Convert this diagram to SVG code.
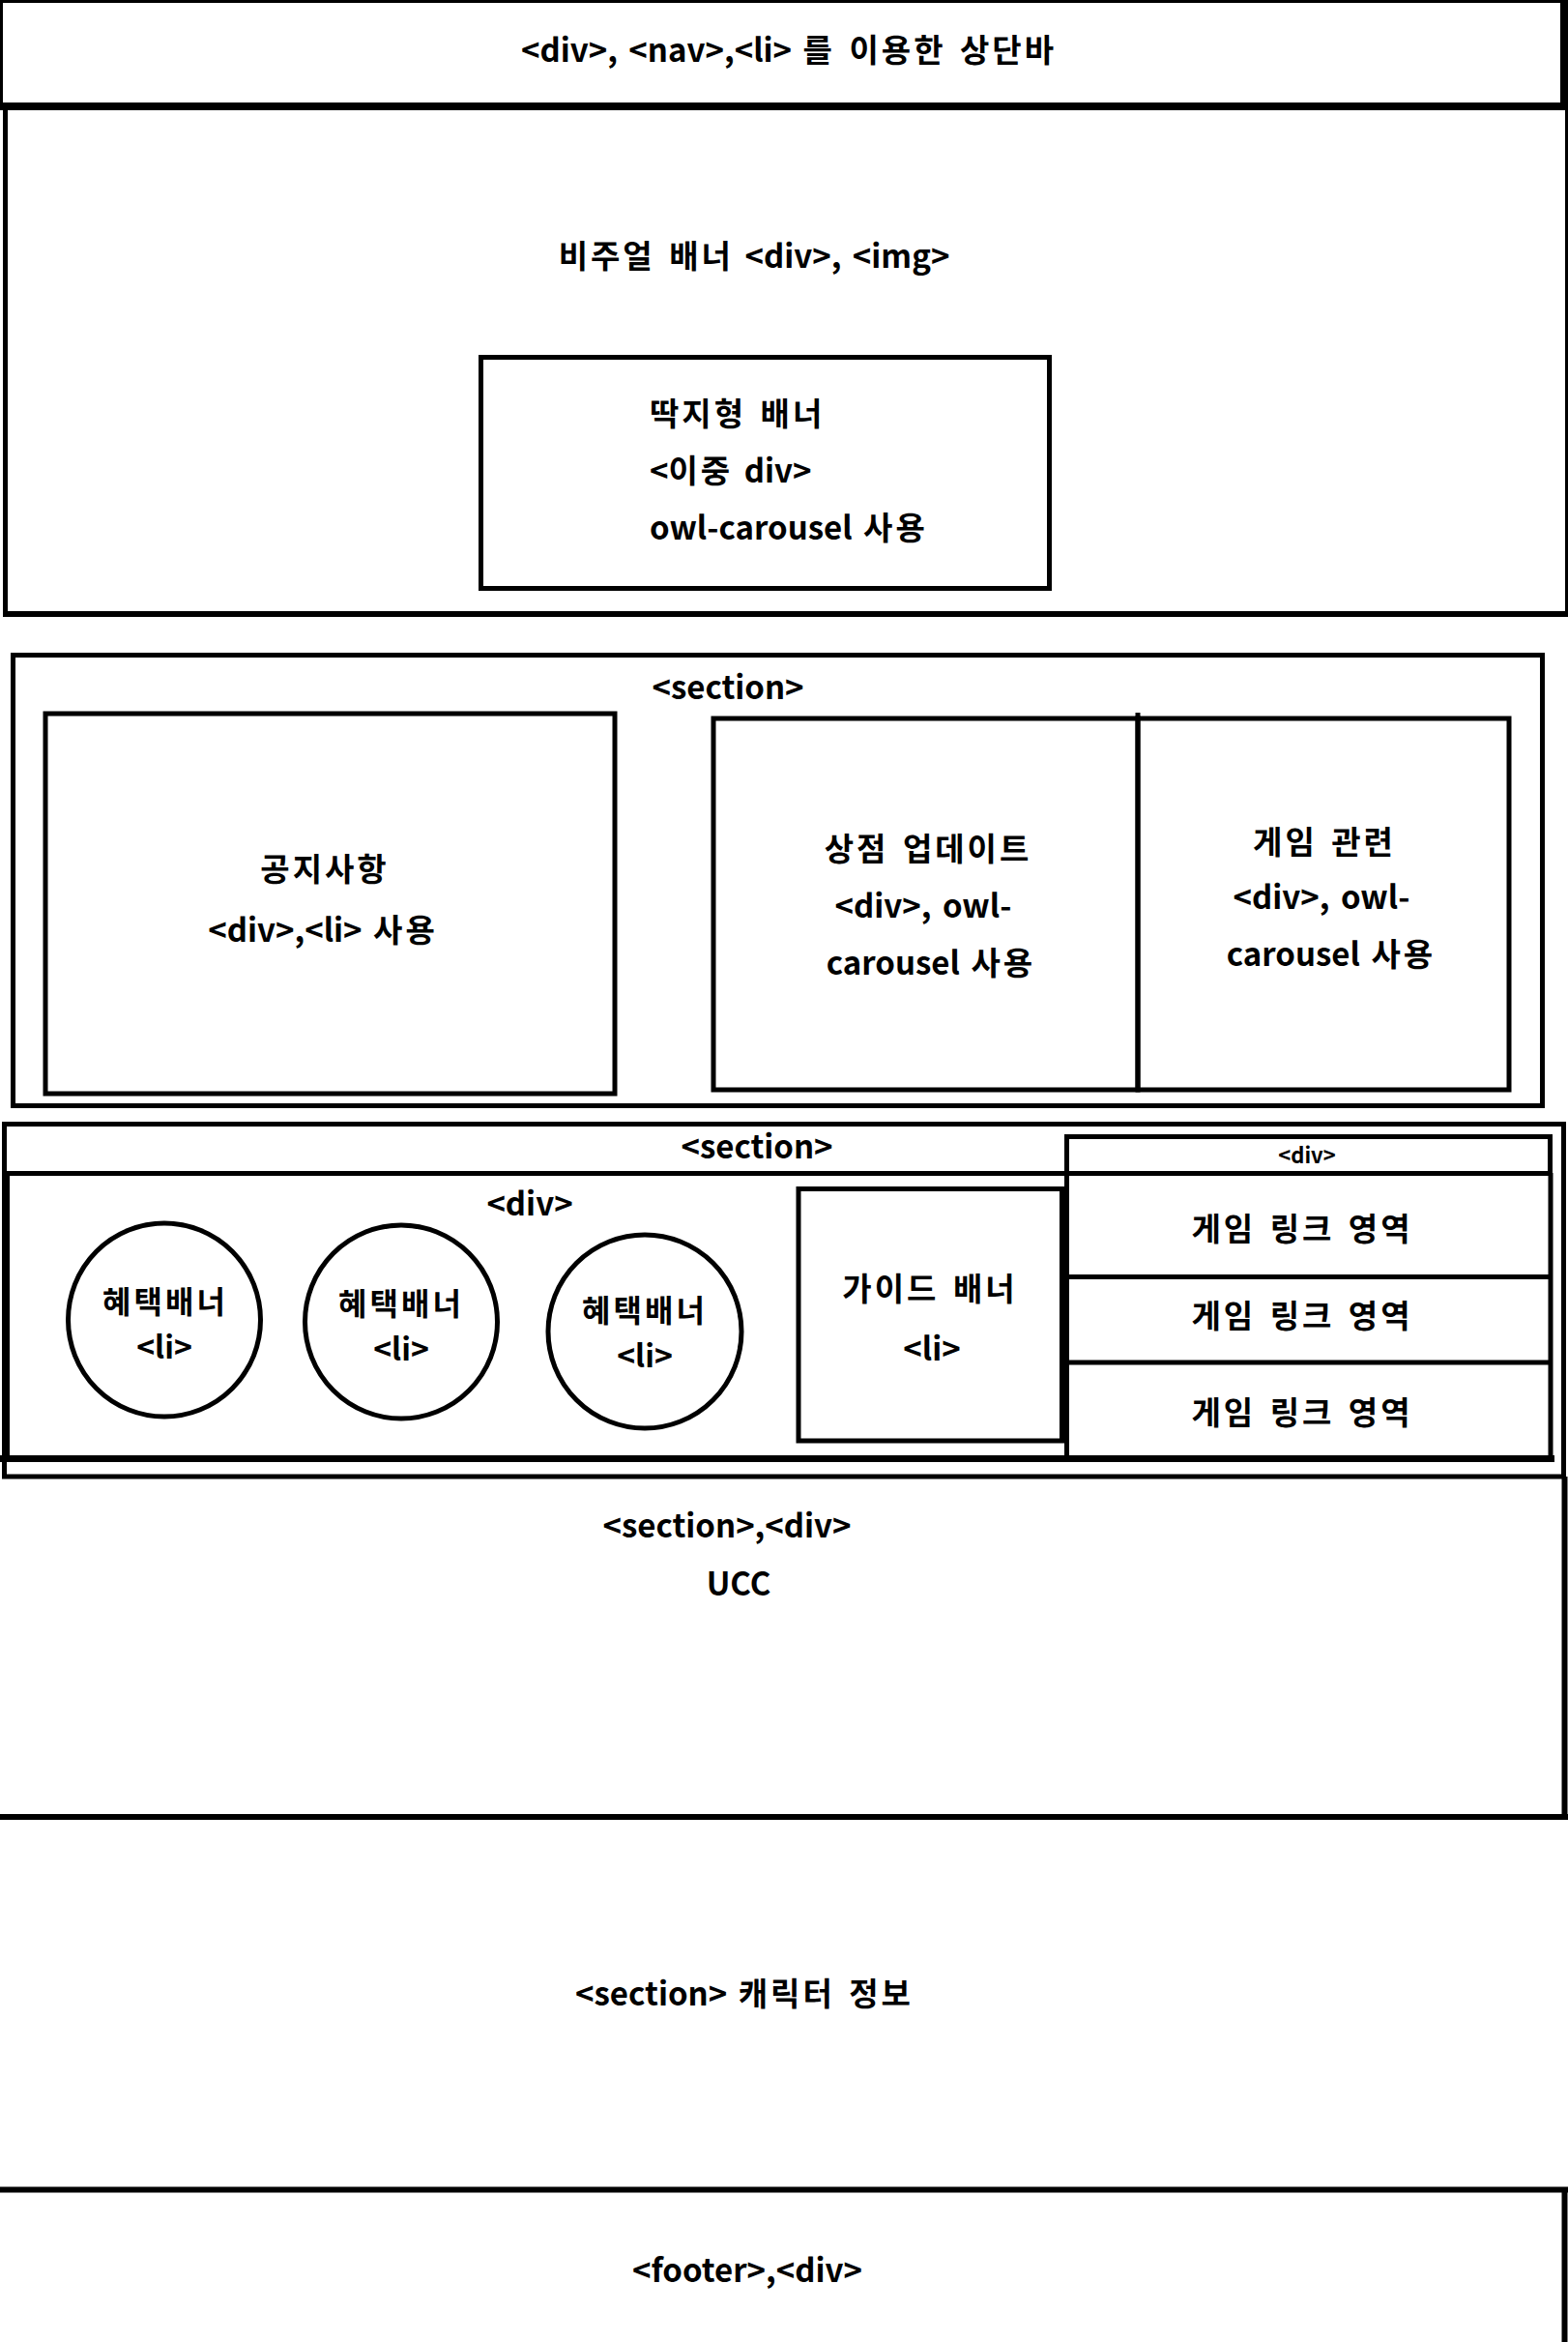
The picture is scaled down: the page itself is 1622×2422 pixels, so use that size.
<svg xmlns="http://www.w3.org/2000/svg" width="1622" height="2422" viewBox="0 0 1622 2422">
<style>
.b{fill:none;stroke:#000;stroke-width:5}
.l{stroke:#000;fill:none}
.t{font-family:"Noto Sans CJK KR","Noto Sans",sans-serif;font-weight:700;font-size:33px;text-anchor:middle;fill:#000;word-spacing:4px}
.k{letter-spacing:3px}
.s{font-size:22px}
.c{font-size:32px}
.st{text-anchor:start}
</style>
<rect width="1622" height="2422" fill="#fff"/>
<g id="topbar">
<path class="l" stroke-width="3" d="M0 1.5H1618M1.5 0V112"/>
<path class="l" stroke-width="8" d="M1618 0V114M0 110H1622"/>
<text class="t" x="816" y="64">&lt;div&gt;, &lt;nav&gt;,&lt;li&gt; <tspan class="k">를 이용한 상단바</tspan></text>
</g>
<g id="visual-banner">
<path class="l" stroke-width="5" d="M5.5 110V638"/>
<path class="l" stroke-width="3" d="M1620.5 110V638"/>
<path class="l" stroke-width="6" d="M3 635H1622"/>
<text class="t" x="780" y="277"><tspan class="k">비주얼 배너</tspan> &lt;div&gt;, &lt;img&gt;</text>
</g>
<g id="tiled-banner">
<rect class="b" x="497.5" y="369.5" width="588" height="239"/>
<text class="t st" x="672" y="440"><tspan class="k">딱지형 배너</tspan></text>
<text class="t st" x="672" y="499">&lt;<tspan class="k">이중</tspan> div&gt;</text>
<text class="t st" x="672" y="558">owl-carousel <tspan class="k">사용</tspan></text>
</g>
<g id="section1">
<rect class="b" x="13.5" y="677.5" width="1582" height="466"/>
<text class="t" x="753" y="723">&lt;section&gt;</text>
</g>
<g id="notice">
<rect class="b" x="47" y="738" width="589" height="393"/>
<text class="t" x="336" y="911"><tspan class="k">공지사항</tspan></text>
<text class="t" x="334" y="974">&lt;div&gt;,&lt;li&gt; <tspan class="k">사용</tspan></text>
</g>
<g id="shop-update">
<rect class="b" x="738" y="743" width="439" height="384"/>
<text class="t" x="960" y="890"><tspan class="k">상점 업데이트</tspan></text>
<text class="t" x="955" y="949">&lt;div&gt;, owl-</text>
<text class="t" x="963" y="1008">carousel <tspan class="k">사용</tspan></text>
</g>
<g id="game-related">
<rect class="b" x="1177" y="743" width="384" height="384"/>
<path class="l" stroke-width="5" d="M1177 737V745"/>
<text class="t" x="1370" y="883"><tspan class="k">게임 관련</tspan></text>
<text class="t" x="1367" y="940">&lt;div&gt;, owl-</text>
<text class="t" x="1377" y="999">carousel <tspan class="k">사용</tspan></text>
</g>
<g id="section2">
<rect class="b" x="4.5" y="1162.5" width="1613" height="364.5"/>
<path class="l" stroke-width="5" d="M5 1213.5H1606"/>
<text class="t" x="783" y="1198">&lt;section&gt;</text>
</g>
<g id="benefit-div">
<path class="l" stroke-width="5" d="M7.5 1213V1508"/>
<path class="l" stroke-width="7" d="M0 1508.5H1608"/>
<text class="t" x="548" y="1257">&lt;div&gt;</text>
</g>
<g id="benefit1">
<ellipse class="b" cx="170" cy="1365" rx="99.5" ry="100"/>
<text class="t c" x="171" y="1358"><tspan class="k">혜택배너</tspan></text>
<text class="t c" x="170" y="1405">&lt;li&gt;</text>
</g>
<g id="benefit2">
<ellipse class="b" cx="415" cy="1367" rx="99.5" ry="100"/>
<text class="t c" x="415" y="1360"><tspan class="k">혜택배너</tspan></text>
<text class="t c" x="415" y="1407">&lt;li&gt;</text>
</g>
<g id="benefit3">
<ellipse class="b" cx="667" cy="1377" rx="100" ry="100"/>
<text class="t c" x="667" y="1367"><tspan class="k">혜택배너</tspan></text>
<text class="t c" x="667" y="1414">&lt;li&gt;</text>
</g>
<g id="guide-banner">
<rect class="b" x="826" y="1229.5" width="272.5" height="260.5"/>
<text class="t" x="962" y="1345"><tspan class="k">가이드 배너</tspan></text>
<text class="t" x="964" y="1407">&lt;li&gt;</text>
</g>
<g id="link-div">
<rect class="b" x="1103.5" y="1175.5" width="500" height="38"/>
<text class="t s" x="1352" y="1203">&lt;div&gt;</text>
</g>
<g id="game-links">
<path class="l" stroke-width="5" d="M1103.5 1213V1508M1604 1213V1508M1103 1320.5H1606M1103 1409H1606"/>
<text class="t" x="1347" y="1283"><tspan class="k">게임 링크 영역</tspan></text>
<text class="t" x="1347" y="1373"><tspan class="k">게임 링크 영역</tspan></text>
<text class="t" x="1347" y="1473"><tspan class="k">게임 링크 영역</tspan></text>
</g>
<g id="ucc">
<path class="l" stroke-width="6" d="M1618.5 1527V1882M0 1879H1622"/>
<text class="t" x="752" y="1590">&lt;section&gt;,&lt;div&gt;</text>
<text class="t" x="764" y="1650">UCC</text>
</g>
<g id="character">
<text class="t" x="770" y="2074">&lt;section&gt; <tspan class="k">캐릭터 정보</tspan></text>
</g>
<g id="footer">
<path class="l" stroke-width="6" d="M0 2264.5H1622M1618.5 2264V2422"/>
<text class="t" x="773" y="2360">&lt;footer&gt;,&lt;div&gt;</text>
</g>
</svg>
